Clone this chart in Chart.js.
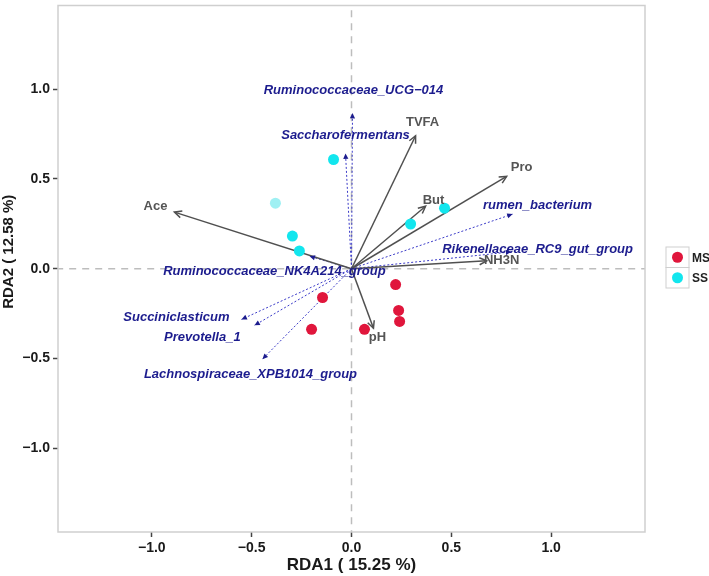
<!DOCTYPE html>
<html>
<head>
<meta charset="utf-8">
<script src="https://cdn.jsdelivr.net/npm/chart.js@4/dist/chart.umd.min.js"></script>
<style>
  html, body { margin: 0; padding: 0; background: #fff; }
  #wrap { width: 709px; height: 576px; }
</style>
</head>
<body>
<div id="wrap"><canvas id="rda" width="709" height="576"></canvas></div>
<script>
// RDA biplot — axis ticks
const xTicks = [-1, -0.5, 0, 0.5, 1];
const yTicks = [-1, -0.5, 0, 0.5, 1];

// samples
const msX = [-0.145, -0.20, 0.065, 0.221, 0.236, 0.241];
const msY = [-0.160, -0.337, -0.337, -0.088, -0.232, -0.293];
const ssX = [-0.090, -0.381, -0.296, -0.261, 0.296, 0.466];
const ssY = [0.608, 0.365, 0.182, 0.099, 0.249, 0.337];

// environmental factors (solid arrows)
const envNames  = ["Ace", "TVFA", "Pro", "But", "NH3N", "pH"];
const envX      = [-0.887, 0.321, 0.777, 0.371, 0.677, 0.110];
const envY      = [0.315, 0.740, 0.514, 0.348, 0.044, -0.331];
const envLabelX = [-0.982, 0.356, 0.852, 0.411, 0.752, 0.130];
const envLabelY = [0.348, 0.812, 0.564, 0.381, 0.044, -0.381];

// genera (dotted arrows)
const spNames = [
  "Ruminococcaceae_UCG\u2212014", "Saccharofermentans", "rumen_bacterium",
  "Rikenellaceae_RC9_gut_group", "Ruminococcaceae_NK4A214_group",
  "Succiniclasticum", "Prevotella_1", "Lachnospiraceae_XPB1014_group"
];
const spX      = [0.005, -0.030, 0.807, 0.800, -0.210, -0.551, -0.486, -0.446];
const spY      = [0.867, 0.641, 0.304, 0.094, 0.070, -0.282, -0.315, -0.503];
const spLabelX = [0.010, -0.030, 0.932, 0.932, -0.386, -0.877, -0.747, -0.506];
const spLabelY = [0.994, 0.740, 0.354, 0.105, -0.017, -0.271, -0.381, -0.586];

const RED  = "#e0163c";
const CYAN = "#12e6ee";
const ENV_COL = "#505050";
const SP_COL  = "#3b3bc8";
const SP_TXT  = "#1c1c8e";
const FONT = "'Liberation Sans', Arial, Helvetica, sans-serif";

const pts = (xs, ys) => xs.map((x, i) => ({ x, y: ys[i] }));

const datasets = [];

// zero reference lines
datasets.push({
  type: "line", data: [{ x: xTicks[0] - 1, y: 0 }, { x: xTicks[4] + 1, y: 0 }],
  borderColor: "#bdbdbd", borderWidth: 1.5, borderDash: [7, 6], pointRadius: 0, order: 20, role: "ref"
});
datasets.push({
  type: "line", data: [{ x: 0, y: yTicks[0] - 1 }, { x: 0, y: yTicks[4] + 1 }],
  borderColor: "#bdbdbd", borderWidth: 1.5, borderDash: [7, 6], pointRadius: 0, order: 20, role: "ref"
});

spNames.forEach((n, i) => {
  datasets.push({
    type: "line", data: [{ x: 0, y: 0 }, { x: spX[i], y: spY[i] }],
    borderColor: SP_COL, borderWidth: 1, borderDash: [2, 2], pointRadius: 0,
    order: 10, role: "sp", idx: i
  });
});

envNames.forEach((n, i) => {
  datasets.push({
    type: "line", data: [{ x: 0, y: 0 }, { x: envX[i], y: envY[i] }],
    borderColor: ENV_COL, borderWidth: 1.5, pointRadius: 0,
    order: 8, role: "env", idx: i
  });
});

datasets.push({
  label: "MS", data: pts(msX, msY), backgroundColor: RED, borderColor: RED,
  pointRadius: 5.5, borderWidth: 0, order: 1
});
datasets.push({
  label: "SS", data: pts(ssX, ssY),
  backgroundColor: ssX.map((_, i) => i === 1 ? "#9ff0f3" : CYAN),
  borderColor: CYAN, pointRadius: 5.5, borderWidth: 0, order: 1
});

function arrowHead(ctx, x0, y0, x1, y1, len, filled) {
  const a = Math.atan2(y1 - y0, x1 - x0);
  const w = Math.PI / 7;
  ctx.beginPath();
  ctx.moveTo(x1 - len * Math.cos(a - w), y1 - len * Math.sin(a - w));
  ctx.lineTo(x1, y1);
  ctx.lineTo(x1 - len * Math.cos(a + w), y1 - len * Math.sin(a + w));
  if (filled) { ctx.closePath(); ctx.fill(); } else { ctx.stroke(); }
}

const biplotExtras = {
  id: "biplotExtras",
  afterDatasetsDraw(chart) {
    const { ctx, scales: { x, y } } = chart;
    ctx.save();
    chart.data.datasets.forEach((ds, di) => {
      if (ds.role !== "env" && ds.role !== "sp") return;
      const p = chart.getDatasetMeta(di).data;
      if (ds.role === "env") {
        ctx.strokeStyle = ENV_COL; ctx.lineWidth = 1.5; ctx.setLineDash([]);
        arrowHead(ctx, p[0].x, p[0].y, p[1].x, p[1].y, 8, false);
      } else {
        ctx.fillStyle = SP_TXT;
        arrowHead(ctx, p[0].x, p[0].y, p[1].x, p[1].y, 6, true);
      }
    });

    ctx.textAlign = "center";
    ctx.textBaseline = "middle";
    ctx.font = "bold italic 13px " + FONT;
    ctx.fillStyle = SP_TXT;
    spNames.forEach((n, i) => {
      ctx.fillText(n, x.getPixelForValue(spLabelX[i]), y.getPixelForValue(spLabelY[i]));
    });
    ctx.font = "bold 13px " + FONT;
    ctx.fillStyle = "#555";
    envNames.forEach((n, i) => {
      ctx.fillText(n, x.getPixelForValue(envLabelX[i]), y.getPixelForValue(envLabelY[i]));
    });
    ctx.restore();
  },
  afterDraw(chart) {
    const { ctx, chartArea: a } = chart;
    ctx.save();
    // panel border
    ctx.strokeStyle = "#cfcfcf"; ctx.lineWidth = 1.5;
    ctx.strokeRect(a.left, a.top, a.right - a.left, a.bottom - a.top);

    // y axis title (sits a little above the panel centre in the original)
    ctx.translate(9, (a.top + a.bottom) / 2 - 17);
    ctx.rotate(-Math.PI / 2);
    ctx.font = "bold 15px " + FONT;
    ctx.fillStyle = "#1a1a1a";
    ctx.textAlign = "center"; ctx.textBaseline = "middle";
    ctx.fillText("RDA2 ( 12.58 %)", 0, 0);
    ctx.setTransform(1, 0, 0, 1, 0, 0);

    // legend
    const lx = a.right + 21, ly = 247, kw = 23, kh = 20.5;
    ctx.strokeStyle = "#cfcfcf"; ctx.lineWidth = 1;
    [RED, CYAN].forEach((c, i) => {
      const top = ly + i * kh;
      ctx.strokeRect(lx, top, kw, kh);
      ctx.fillStyle = c;
      ctx.beginPath();
      ctx.arc(lx + kw / 2, top + kh / 2, 5.5, 0, Math.PI * 2);
      ctx.fill();
      ctx.fillStyle = "#222";
      ctx.font = "bold 12px " + FONT;
      ctx.textAlign = "left"; ctx.textBaseline = "middle";
      ctx.fillText(i === 0 ? "MS" : "SS", lx + kw + 3, top + kh / 2 + 1);
    });
    ctx.restore();
  }
};

const tickFmt = v => (v < 0 ? "\u2212" : "") + Math.abs(v).toFixed(1);

new Chart(document.getElementById("rda"), {
  type: "scatter",
  data: { datasets },
  plugins: [biplotExtras],
  options: {
    responsive: false,
    animation: false,
    devicePixelRatio: 1,
    layout: { padding: { top: 0, right: 64, left: 0, bottom: 0 } },
    plugins: { legend: { display: false }, tooltip: { enabled: false } },
    scales: {
      x: {
        type: "linear", min: -1.47, max: 1.47,
        afterBuildTicks: s => { s.ticks = xTicks.map(v => ({ value: v })); },
        afterFit: s => { s.height = 44; s.paddingLeft = 0; s.paddingRight = 0; },
        grid: { drawOnChartArea: false, drawTicks: true, tickLength: 5, tickColor: "#444", tickWidth: 1.5 },
        border: { display: false },
        ticks: { callback: tickFmt, color: "#1a1a1a", padding: 3, font: { family: FONT, size: 14, weight: "bold" }, maxRotation: 0 },
        title: { display: true, text: "RDA1 ( 15.25 %)", color: "#1a1a1a", padding: { top: 0, bottom: 0 }, font: { family: FONT, size: 17, weight: "bold" } }
      },
      y: {
        type: "linear", min: -1.465, max: 1.465,
        afterBuildTicks: s => { s.ticks = yTicks.map(v => ({ value: v })); },
        afterFit: s => { s.width = 58; s.paddingTop = 0; s.paddingBottom = 0; },
        grid: { drawOnChartArea: false, drawTicks: true, tickLength: 5, tickColor: "#444", tickWidth: 1.5 },
        border: { display: false },
        ticks: { callback: tickFmt, color: "#1a1a1a", padding: 3, font: { family: FONT, size: 14, weight: "bold" } },
        title: { display: false }
      }
    }
  }
});
</script>
</body>
</html>
